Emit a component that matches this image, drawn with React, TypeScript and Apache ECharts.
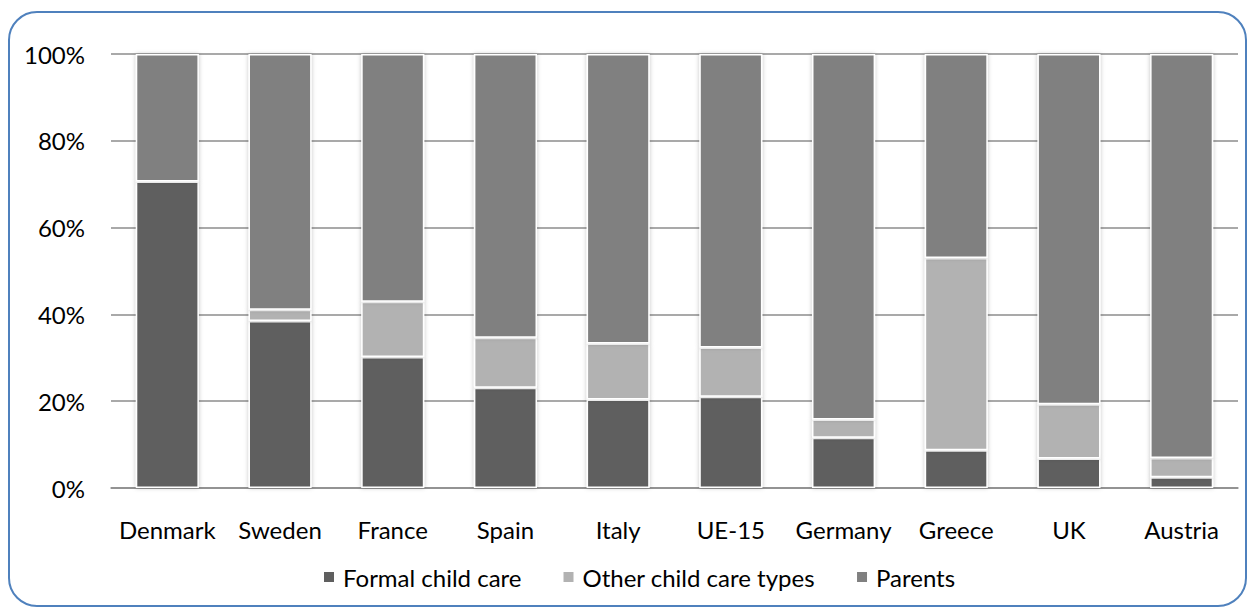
import React, { useEffect, useRef } from "react";
import * as echarts from "echarts";

const categories = ["Denmark", "Sweden", "France", "Spain", "Italy", "UE-15", "Germany", "Greece", "UK", "Austria"];
const formalCare = [70.6, 38.5, 30.2, 23.1, 20.4, 21.0, 11.6, 8.7, 6.8, 2.5];
const otherCare = [0, 2.6, 12.7, 11.5, 12.9, 11.4, 4.2, 44.3, 12.5, 4.4];
const parents = [29.4, 58.9, 57.1, 65.4, 66.7, 67.6, 84.2, 47.0, 80.7, 93.1];
const seriesNames = ["Formal child care", "Other child care types", "Parents"];
const colors = ["#5f5f5f", "#b2b2b2", "#808080"];

const FONT = "Lato";
const FS = 24;

export default function App() {
  const ref = useRef<HTMLDivElement>(null);
  useEffect(() => {
    if (!ref.current) return;
    const chart = echarts.init(ref.current, null, { renderer: "svg" });
    const datasets = [formalCare, otherCare, parents];
    chart.setOption({
      animation: false,
      backgroundColor: "#ffffff",
      graphic: [
        {
          type: "rect",
          shape: { x: 9, y: 12, width: 1237, height: 594, r: 28 },
          style: { fill: "none", stroke: "#4f81bd", lineWidth: 2 },
          silent: true,
          z: -1,
        },
      ],
      grid: { left: 111, right: 16, top: 54, bottom: 123 },
      legend: {
        data: seriesNames,
        top: 565,
        left: 322,
        padding: 0,
        icon: "rect",
        itemWidth: 12,
        itemHeight: 12,
        itemGap: 40,
        textStyle: { fontFamily: FONT, fontSize: FS, color: "#000", padding: [0, 0, 0, 3] },
      },
      xAxis: {
        type: "category",
        data: categories,
        axisLine: { show: true, lineStyle: { color: "#8c8c8c", width: 1.5 } },
        axisTick: { show: false },
        axisLabel: { interval: 0, fontFamily: FONT, fontSize: FS, color: "#000", margin: 29 },
      },
      yAxis: {
        type: "value",
        min: 0,
        max: 100,
        interval: 20,
        axisLine: { show: false },
        axisTick: { show: false },
        axisLabel: { formatter: "{value}%", fontFamily: FONT, fontSize: FS, color: "#000", margin: 26 },
        splitLine: { lineStyle: { color: "#8c8c8c", width: 1.5 } },
      },
      series: datasets.map((d, i) => ({
        name: seriesNames[i],
        type: "bar",
        stack: "total",
        data: d,
        barWidth: "56%",
        itemStyle: {
          color: colors[i],
          borderColor: "#ffffff",
          borderWidth: 1.5,
          shadowBlur: 4,
          shadowColor: "rgba(0,0,0,0.25)",
        },
      })),
    });
    return () => chart.dispose();
  }, []);
  return (
    <div
      ref={ref}
      style={{ position: "fixed", left: 0, top: 0, width: 1254, height: 611 }}
    />
  );
}
